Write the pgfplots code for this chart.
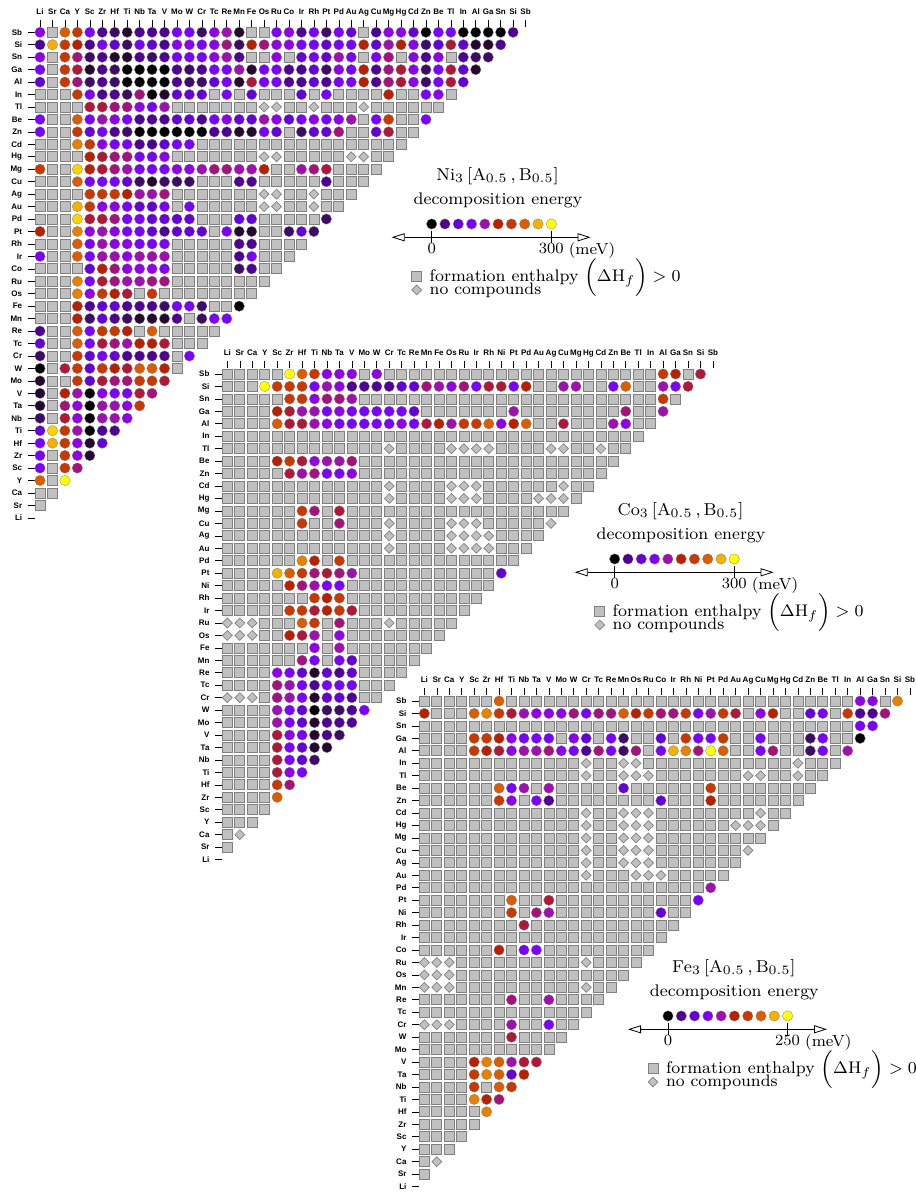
\documentclass[border=0pt]{standalone}
\usepackage{pgfplots}
\usepackage{fontspec}
\setsansfont{Liberation Sans}
\pgfplotsset{compat=1.18}
\usetikzlibrary{arrows.meta}
\definecolor{ck}{HTML}{000000}
\definecolor{ca}{HTML}{25082F}
\definecolor{cb}{HTML}{3D0C66}
\definecolor{cc}{HTML}{4F0095}
\definecolor{cd}{HTML}{6600D8}
\definecolor{ce}{HTML}{7B00FF}
\definecolor{cf}{HTML}{9000E8}
\definecolor{cg}{HTML}{A010B0}
\definecolor{ch}{HTML}{A6127C}
\definecolor{ci}{HTML}{B01838}
\definecolor{cj}{HTML}{B82000}
\definecolor{cl}{HTML}{C83800}
\definecolor{cm}{HTML}{DC5C00}
\definecolor{co}{HTML}{E88000}
\definecolor{cp}{HTML}{F5B000}
\definecolor{cq}{HTML}{FBD400}
\definecolor{cy}{HTML}{FFFF00}
\definecolor{cellgray}{HTML}{C0C0C0}
\pgfplotsset{
 dot/.style={only marks,mark=*,mark size=5.2pt,mark options={fill=#1,draw=black!50,line width=.3pt}},
 mkk/.style={dot=ck},mka/.style={dot=ca},mkb/.style={dot=cb},mkc/.style={dot=cc},mkd/.style={dot=cd},
 mke/.style={dot=ce},mkf/.style={dot=cf},mkg/.style={dot=cg},mkh/.style={dot=ch},mki/.style={dot=ci},
 mkj/.style={dot=cj},mkl/.style={dot=cl},mkm/.style={dot=cm},mko/.style={dot=co},mkp/.style={dot=cp},
 mkq/.style={dot=cq},mky/.style={dot=cy},
 mkS/.style={only marks,mark=square*,mark size=5pt,mark options={fill=cellgray,draw=black!50,line width=.7pt}},
 mkD/.style={only marks,mark=square*,mark size=3.5pt,mark options={rotate=45,fill=cellgray,draw=black!50,line width=.7pt}}}
\newcount\rr \newcount\cc
\def\addcell#1{\expandafter\xdef\csname cl@#1\endcsname{\csname cl@#1\endcsname(\the\cc,\the\rr)}}
\def\cellnext#1 {\ifx\relax#1\else\addcell{#1}\global\advance\cc by 1 \expandafter\cellnext\fi}
\def\cellrow#1{\global\cc=0 \cellnext#1 \relax \global\advance\rr by -1 }
\def\resetcl#1{\expandafter\gdef\csname cl@#1\endcsname{}}
\def\resetall{\resetcl k\resetcl a\resetcl b\resetcl c\resetcl d\resetcl e\resetcl f\resetcl g\resetcl h\resetcl i\resetcl j\resetcl l\resetcl m\resetcl o\resetcl p\resetcl q\resetcl y\resetcl S\resetcl D\global\rr=39 }
\def\plotcoords#1#2{\def\tmp{#1}\ifx\tmp\empty\else\addplot[mk#2] coordinates {#1};\fi}
\def\plotclass#1{\expandafter\expandafter\expandafter\plotcoords\expandafter\expandafter\expandafter{\csname cl@#1\endcsname}{#1}}
\def\tabNi{%
\cellrow{f S m l e c b a c c  c e e b f g a S S e  f c e b e d S c f f  d k e e k k k k c}
\cellrow{c p l j c e d b e d  c f f e f h b j h f  f e e d e e j d g j  f b d i d a a c}
\cellrow{f S l h b c a a c b  c e e e f g c S S f  S d e d g e S e h S  f c f S c b b}
\cellrow{e S l i a c b k k k  k c b c e e g a e e  c c d b f e j c h i  f b e i d a}
\cellrow{d S l h b c b k k k  k c b b d e a i e e  c c d c e e j c h i  f b e i d}
\cellrow{S S S l e c c b h k  a d d d S e S d S S  S d S e S S S S j S  S e f S}
\cellrow{S S S S i i h h f e  g S S S S S S S D D  S S D S S S D S S S  S S S}
\cellrow{e S S m e g f e c c  c d d c e f d d g f  d e f e f g S e l S  S e}
\cellrow{e S S l d e c b k k  k k k k c c a a e d  S b d d h S S d i S  S}
\cellrow{S S S o l f e e c c  d e e S S S S S S S  S S S S S S S S S S}
\cellrow{S S S S j i h h e e  f S S S S S S S D D  S S S S S D D S S}
\cellrow{l S S q j i h g e e  e f f g h h g g j S  S g h i S S S S}
\cellrow{S S S m e e e d b a  b b b S S S c c S S  S S S c S S S}
\cellrow{S S S S l l l j g g  h S S S S S S S D D  S S D S S S}
\cellrow{S S S p l f f e d d  e S e S S S S S D D  S S D S S}
\cellrow{S S S q i i h e e d  d d d S S S d d S S  S S S b}
\cellrow{j S S o f g f e e d  c d d d S e a a S S  b d b}
\cellrow{S S S m e g f f e e  e S S S S S c c S S  S S}
\cellrow{e S S m e g g f g g  g S S S S S c e S S  S}
\cellrow{S S S S d j h f f f  e S S S S S b c S S}
\cellrow{S S S o e i h g g h  h S S S S S S S S}
\cellrow{S S S o f l j i S l  S S S S S S S S}
\cellrow{S S S j c d d c c c  b e e b S S k}
\cellrow{S S S j b d c b a a  a c S b e e}
\cellrow{c S S m e l l j S m  S S S S S}
\cellrow{d S S m e i h g j j  i S S S}
\cellrow{b S S l d e d c c c  c S e}
\cellrow{k S i l d l j i m m  j S}
\cellrow{a S S l d i h h l l  i}
\cellrow{a S j g k f e e i h}
\cellrow{a S h f k g g f l}
\cellrow{b S i f k g g f}
\cellrow{d q l g k c c}
\cellrow{e p l f a d}
\cellrow{e S l f a}
\cellrow{e S l h}
\cellrow{m S y}
\cellrow{S S}
\cellrow{S}}
\def\tabCo{%
\cellrow{S S S S S y m l f f  f S f S S S S S S S  S S S S S S S S S S  S S S S S l j S i}
\cellrow{S S S y l l l e g f  c c c c d d h g f h  e i i e j S S g g S  S e m S S g e i}
\cellrow{S S S S S l l f h h  g S S S S S S S S S  S S S S S S S S S S  S S S S S l S}
\cellrow{S S S S j i g g e f  e e e e e d S S S S  S S S g S S S S S S  S S h S S g}
\cellrow{S S S S m i i g f e  e e e e f e i j g l  l m f j m S S i S S  S g f S S}
\cellrow{S S S S S S S S S S  S S S S S S S S S S  S S S S S S S S S S  S S S S}
\cellrow{S S S S S S S S S S  S S S D S S S S D D  D D S S S S D D S S  D S S}
\cellrow{S S S S j l i f g g  h S S S S S S S S S  S S S S S S S S S S  S S}
\cellrow{S S S S S i g h e e  f S S S S S S S S S  S S S S S S S S S S  S}
\cellrow{S S S S S S S S S S  S S S D S S S S D D  D S S S S S S D S S}
\cellrow{S S S S S S S S S S  S S S D S S S S D D  D S S S S D D D S}
\cellrow{S S S S S S l h S i  S S S S S S S S S S  S S S S S S S S}
\cellrow{S S S S S S l S S h  S S S D S S S S D D  D S S S S S D}
\cellrow{S S S S S S S S S S  S S S D S S S S D D  D D S S S S}
\cellrow{S S S S S S S S S S  S S S D S S S S D D  D D S S S}
\cellrow{S S S S S S o j S l  S S S S S S S S S S  S S S S}
\cellrow{S S S S p m l h i h  g S S S S S S S S S  S S d}
\cellrow{S S S S S j h g e e  S S S S S S S S S S  S S}
\cellrow{S S S S S S S l j l  S S S S S S S S S S  S}
\cellrow{S S S S S l l i j l  i S S S S S S S S S}
\cellrow{D D D S S S m l S h  S S S D S S S S S}
\cellrow{D D D S S j i g S f  S S S S S S S S}
\cellrow{S S S S S S S f S g  S S S S S S S}
\cellrow{S S S S S S h e S e  d S S S S S}
\cellrow{S S S S f e d a d c  d S S S S}
\cellrow{S S S S h g e c e e  e S S S}
\cellrow{D D D S h g e a d d  c S S}
\cellrow{S S S S g e d k b b  c e}
\cellrow{S S S S g e d a c c  c}
\cellrow{S S S S i f e a c b}
\cellrow{S S S S i e d a a}
\cellrow{S S S S i e d b}
\cellrow{S S S S i f e}
\cellrow{S S S S l h}
\cellrow{S S S S m}
\cellrow{S S S S}
\cellrow{S S S}
\cellrow{S D}
\cellrow{S}}
\def\tabFe{%
\cellrow{S S S S S S m S S S  S S S S S S S S S S  S S S S S S S S S S  S S S S S f f S o}
\cellrow{j S S S m o l i g f  f f h e h h m j l h  h l e g l i S f j S  S d e S l c c h}
\cellrow{S S S S S S S S S S  S S S S S S S S S S  S S S S S S S S S S  S S S S S e e}
\cellrow{S S S S l l j f e e  e S f d S e b S S d  S l e e l S S e S S  S b e S S k}
\cellrow{S S S S l j i f g g  h f e c h e b h S e  p o h y m S S e h S  S b e S g}
\cellrow{S S S S S S S S S S  S S S D S S D D S S  S S S S S S S S S S  D S S S}
\cellrow{S S S S S S S S S S  S S S D S S D D D S  S S S S S S D D S S  D S S}
\cellrow{S S S S S S m e g S  g S S S S S d S S S  S S S l S S S S S S  S S}
\cellrow{S S S S S S l f S e  c S S S S S S S S d  S S S j S S S S S S  S}
\cellrow{S S S S S S S S S S  S S S D S S D D D S  S S S S S S S D S S}
\cellrow{S S S S S S S S S S  S S S D S S D D D S  S S S S S D D D S}
\cellrow{S S S S S S S S S S  S S S D S S D D D S  S S S S S S S S}
\cellrow{S S S S S S S S S S  S S S D S S D D D S  S S S S S S D}
\cellrow{S S S S S S S S S S  S S S D S S D D D S  S S S S S S}
\cellrow{S S S S S S S S S S  S S S D S S S D D D  S S S S S}
\cellrow{S S S S S S S S S S  S S S S S S S S S S  S S S g}
\cellrow{S S S S S S S m S S  i S S S S S S S S S  S S e}
\cellrow{S S S S S S S l S h  g S S S S S S S S d  S S}
\cellrow{S S S S S S S S i S  S S S S S S S S S S  S}
\cellrow{S S S S S S S S S S  S S S S S S S S S S}
\cellrow{S S S S S S j S e e  S S S S S S S S S}
\cellrow{D D D S S S S S S S  S S S D S S S S}
\cellrow{D D D S S S S S S S  S S S S S S S}
\cellrow{D D D S S S S S S S  S S S D S S}
\cellrow{S S S S S S S h S S  g S S S S}
\cellrow{S S S S S S S S S S  S S S S}
\cellrow{D D D S S S S g S S  e S S}
\cellrow{S S S S S S S i S S  S S}
\cellrow{S S S S S S S S S S  S}
\cellrow{S S S S j o m g i i}
\cellrow{S S S S l o m d j}
\cellrow{S S S S l S m l}
\cellrow{S S S S o j h}
\cellrow{S S S S S o}
\cellrow{S S S S S}
\cellrow{S S S S}
\cellrow{S S S}
\cellrow{S D}
\cellrow{S}}
% #1 left px, #2 Sb row px, #3 table, #4 labels
\newcommand\tri[4]{%
\resetall #3%
\begin{axis}[at={({(#1)*1pt},{(1192-(#2+39.5*12.45))*1pt})},anchor=south west,scale only axis,
 x=12.45pt,y=12.45pt,xmin=-0.43,xmax=39.5,ymin=-0.5,ymax=39.45,clip=false,
 axis x line*=top,axis y line*=left,axis line style={draw=none},tick align=outside,
 major tick length=7pt,tick style={black,line width=.6pt},
 xtick={0,...,39},ytick={0,...,39},xticklabels={#4},yticklabels={#4},
 xticklabel style={font=\sffamily\bfseries\fontsize{8}{9}\selectfont,text height=6pt,text depth=0pt,yshift=2pt},
 yticklabel style={font=\sffamily\bfseries\fontsize{8}{9}\selectfont,xshift=-2pt}]
\plotclass S\plotclass D\plotclass k\plotclass a\plotclass b\plotclass c\plotclass d\plotclass e\plotclass f\plotclass g\plotclass h\plotclass i\plotclass j\plotclass l\plotclass m\plotclass o\plotclass p\plotclass q\plotclass y
\end{axis}}
% #1 dx, #2 dy, #3 host, #4 x unit, #5 xmin, #6 xmax, #7 tick values (x positions 1..9 in #8), #9 swatch x
\newcommand\leg[9]{%
\begin{axis}[at={({(#1+391.7)*1pt},{(1192-(#2+237.3))*1pt})},anchor=south west,scale only axis,
 x=#4pt,y=1pt,xmin=#5,xmax=#6,ymin=0,ymax=20,clip=false,
 axis x line=bottom,axis y line=none,
 axis line style={line width=.8pt,{Triangle[open,length=13pt,width=8pt]}-{Triangle[open,length=13pt,width=8pt]}},
 tick align=center,major tick length=12pt,tick style={black,line width=.6pt},
 xtick={0,#7},xticklabel style={font=\footnotesize,scale=1.95,inner sep=0pt}]
#8
\addplot[mkS] coordinates {(#9,-39.4)};
\addplot[mkD] coordinates {(#9,-52.7)};
\end{axis}
\node[scale=2.15,font=\footnotesize] at ({(#1+497.5)*1pt},{(1192-(#2+176))*1pt}) {$\mathrm{#3}_{3}\,[\mathrm{A}_{0.5}\,,\mathrm{B}_{0.5}]$};
\node[scale=2.1,font=\footnotesize] at ({(#1+498)*1pt},{(1192-(#2+200.7))*1pt}) {decomposition energy};
\node[scale=2,font=\footnotesize,anchor=base,inner sep=0pt] at ({(#1+592)*1pt},{(1192-(#2+255))*1pt}) {(meV)};
\node[scale=2.1,font=\footnotesize,anchor=west,inner sep=0pt] at ({(#1+429.3)*1pt},{(1192-(#2+276.7))*1pt}) {formation enthalpy $\Bigl(\Delta\mathrm{H}_f\Bigr)>0$};
\node[scale=2.08,font=\footnotesize,anchor=west,inner sep=0pt] at ({(#1+429.3)*1pt},{(1192-(#2+290))*1pt}) {no compounds};
}
\def\legthree{%
\addplot[mkk] coordinates {(0,13.3)};\addplot[mkc] coordinates {(33.3,13.3)};\addplot[mkd] coordinates {(66.7,13.3)};\addplot[mke] coordinates {(100,13.3)};\addplot[mkg] coordinates {(133.3,13.3)};\addplot[mkj] coordinates {(166.7,13.3)};\addplot[mkl] coordinates {(200,13.3)};\addplot[mkm] coordinates {(233.3,13.3)};\addplot[mkp] coordinates {(266.7,13.3)};\addplot[mky] coordinates {(300,13.3)};}
\def\legtwo{%
\addplot[mkk] coordinates {(0,13.3)};\addplot[mkc] coordinates {(27.8,13.3)};\addplot[mkd] coordinates {(55.6,13.3)};\addplot[mke] coordinates {(83.3,13.3)};\addplot[mkg] coordinates {(111.1,13.3)};\addplot[mkj] coordinates {(138.9,13.3)};\addplot[mkl] coordinates {(166.7,13.3)};\addplot[mkm] coordinates {(194.4,13.3)};\addplot[mkp] coordinates {(222.2,13.3)};\addplot[mky] coordinates {(250,13.3)};}
\begin{document}
\begin{tikzpicture}
\useasboundingbox (0pt,0pt) rectangle (916pt,1192pt);
\tri{34.65}{32.3}{\tabNi}{Li,Sr,Ca,Y,Sc,Zr,Hf,Ti,Nb,Ta,V,Mo,W,Cr,Tc,Re,Mn,Fe,Os,Ru,Co,Ir,Rh,Pt,Pd,Au,Ag,Cu,Mg,Hg,Cd,Zn,Be,Tl,In,Al,Ga,Sn,Si,Sb}
\tri{222}{374}{\tabCo}{Li,Sr,Ca,Y,Sc,Zr,Hf,Ti,Nb,Ta,V,Mo,W,Cr,Tc,Re,Mn,Fe,Os,Ru,Ir,Rh,Ni,Pt,Pd,Au,Ag,Cu,Mg,Hg,Cd,Zn,Be,Tl,In,Al,Ga,Sn,Si,Sb}
\tri{419}{701}{\tabFe}{Li,Sr,Ca,Y,Sc,Zr,Hf,Ti,Nb,Ta,V,Mo,W,Cr,Tc,Re,Mn,Os,Ru,Co,Ir,Rh,Ni,Pt,Pd,Au,Ag,Cu,Mg,Hg,Cd,Zn,Be,Tl,In,Al,Ga,Sn,Si,Sb}
\leg{0}{0}{Ni}{0.39867}{-100.3}{398.8}{300}{\legthree}{-37.6}
\leg{183}{335}{Co}{0.39867}{-100.3}{398.8}{300}{\legthree}{-37.6}
\leg{236.3}{792}{Fe}{0.4784}{-83.6}{332.4}{250}{\legtwo}{-31.4}
\end{tikzpicture}
\end{document}
